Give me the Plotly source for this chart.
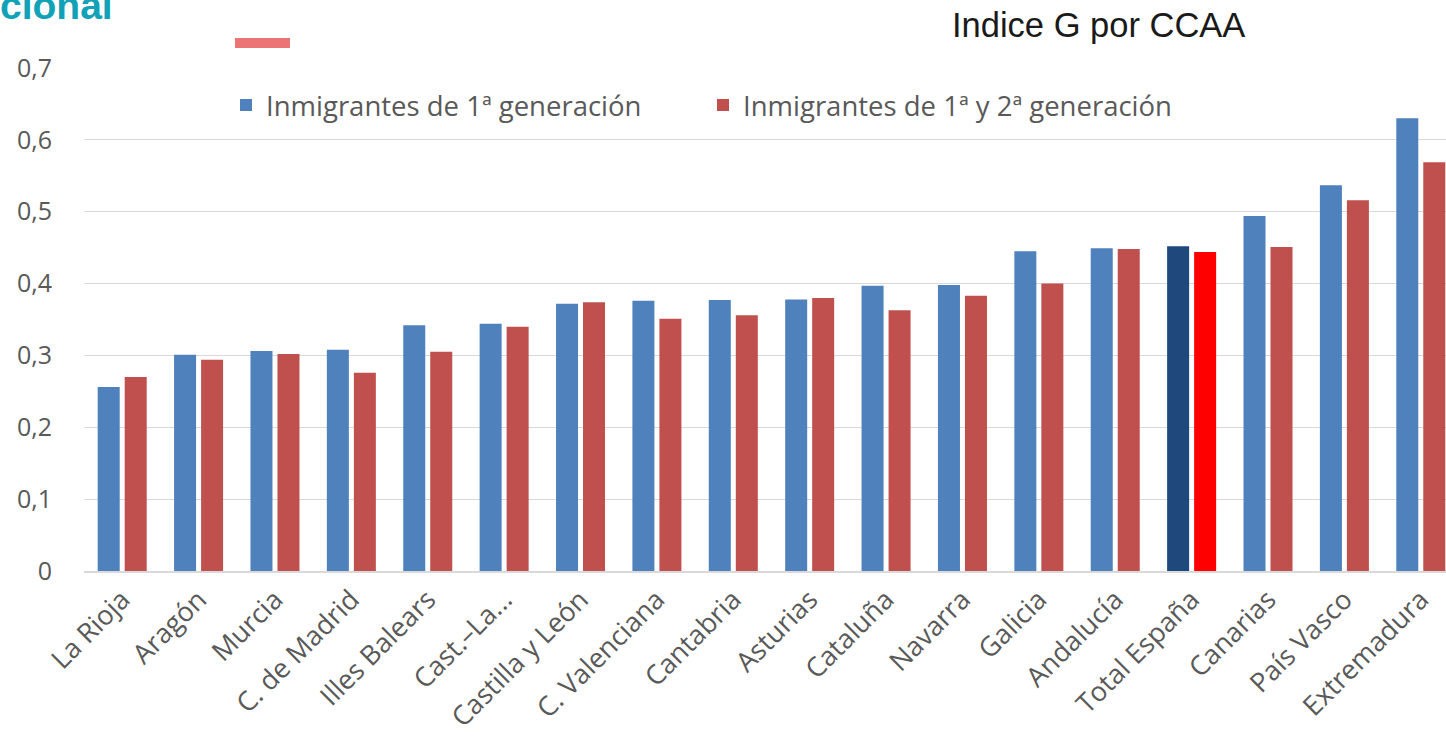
import plotly.graph_objects as go

regions = ["La Rioja", "Aragón", "Murcia", "C. de Madrid", "Illes Balears", "Cast.–La...",
           "Castilla y León", "C. Valenciana", "Cantabria", "Asturias", "Cataluña", "Navarra",
           "Galicia", "Andalucía", "Total España", "Canarias", "País Vasco", "Extremadura"]
gen1 = [0.256, 0.301, 0.306, 0.308, 0.342, 0.344, 0.372, 0.376, 0.377, 0.378, 0.397, 0.398,
        0.445, 0.449, 0.452, 0.494, 0.537, 0.630]
gen12 = [0.270, 0.294, 0.302, 0.276, 0.305, 0.340, 0.374, 0.351, 0.356, 0.380, 0.363, 0.383,
         0.400, 0.448, 0.444, 0.451, 0.516, 0.569]
yticks = [0, 0.1, 0.2, 0.3, 0.4, 0.5, 0.6, 0.7]
yticklabels = ["0", "0,1", "0,2", "0,3", "0,4", "0,5", "0,6", "0,7"]
highlight = "Total España"

blue, red = "#4F81BD", "#C0504D"
blue_hl, red_hl = "#1F497D", "#FF0000"
c1 = [blue_hl if r == highlight else blue for r in regions]
c2 = [red_hl if r == highlight else red for r in regions]

fig = go.Figure()
fig.add_trace(go.Bar(x=regions, y=gen1, name="Inmigrantes de 1ª generación",
                     marker=dict(color=c1, line=dict(width=0))))
fig.add_trace(go.Bar(x=regions, y=gen12, name="Inmigrantes de 1ª y 2ª generación",
                     marker=dict(color=c2, line=dict(width=0))))

W, H = 1446, 740
L, R, T, B = 84, 0, 68, 169
pw, ph = W - L - R, H - T - B

def px(x):
    return (x - L) / pw

def py(y):
    return (H - B - y) / ph

fig.update_layout(
    width=W, height=H,
    margin=dict(l=L, r=R, t=T, b=B),
    paper_bgcolor="white", plot_bgcolor="white",
    barmode="group", bargap=0.293, bargroupgap=0.185,
    font=dict(family="Open Sans", color="#595959"),
    showlegend=True,
    legend=dict(orientation="h", x=px(226), y=py(105), xanchor="left", yanchor="middle",
                font=dict(size=27.5, color="#595959"), entrywidth=432,
                bgcolor="rgba(0,0,0,0)"),
    xaxis=dict(range=[-0.5, 17.33], tickangle=-45, tickfont=dict(size=27, color="#595959"),
               showgrid=False, showline=True, linecolor="#D9D9D9", linewidth=2,
               ticks="", fixedrange=True),
    yaxis=dict(range=[0, 0.7], tickvals=yticks, ticktext=yticklabels,
               tickfont=dict(size=25, color="#595959"),
               showgrid=True, gridcolor="#D9D9D9", gridwidth=1.3,
               zeroline=False, ticks="outside", ticklen=26, tickcolor="rgba(0,0,0,0)"),
)

fig.add_annotation(text="Indice G por CCAA", xref="paper", yref="paper",
                   x=px(950), y=py(25), xanchor="left", yanchor="middle", showarrow=False,
                   font=dict(family="Liberation Sans, Arial", size=34.5, color="#1a1a1a"))
fig.add_annotation(text="<b>cional</b>", xref="paper", yref="paper",
                   x=px(-2), y=py(29), xanchor="left", yanchor="bottom", showarrow=False,
                   font=dict(family="Liberation Sans, Arial", size=39, color="#12A2B8"))
fig.add_shape(type="rect", xref="paper", yref="paper",
              x0=px(235), x1=px(290), y0=py(48), y1=py(38),
              fillcolor="#EC7474", line=dict(width=0))

fig.write_html("out.html", config={"displayModeBar": False},
               post_script="document.body.style.margin='0';document.body.style.overflow='hidden';")
